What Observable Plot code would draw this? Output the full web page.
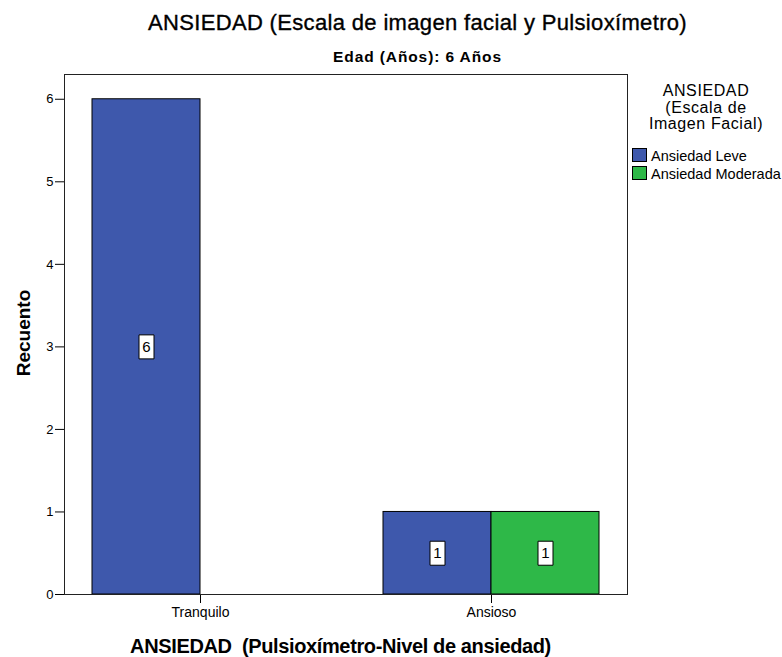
<!DOCTYPE html>
<html>
<head>
<meta charset="utf-8">
<script src="https://cdn.jsdelivr.net/npm/d3@7"></script>
<script src="https://cdn.jsdelivr.net/npm/@observablehq/plot@0.6"></script>
<style>
  body { margin: 0; background: #fff; font-family: "Liberation Sans", Arial, sans-serif; }
  #wrap { position: relative; width: 782px; height: 657px; overflow: hidden; }
  .abs { position: absolute; white-space: nowrap; color: #000; line-height: 1; }
  .c { transform: translate(-50%, -50%); }
  #title { left: 417.5px; top: 23px; font-size: 22px; font-weight: normal; -webkit-text-stroke: 0.35px #000; }
  #subtitle { left: 417.5px; top: 56.5px; font-size: 15.5px; font-weight: bold; }
  #ylabel { left: 23px; top: 333px; transform: translate(-50%, -50%) rotate(-90deg); font-size: 19px; font-weight: bold; }
  #xlabel { left: 340.5px; top: 645.5px; font-size: 20px; font-weight: bold; }
  .lt { left: 706px; font-size: 16px; }
  .sw { position: absolute; left: 632px; width: 13px; height: 12px; border: 1px solid #000; }
  .li { position: absolute; left: 651px; font-size: 14.5px; transform: translateY(-50%); line-height: 1; white-space: nowrap; }
  svg { position: absolute; left: 0; top: 0; }
</style>
</head>
<body>
<div id="wrap">
  <div id="title" class="abs c" data-w="539">ANSIEDAD (Escala de imagen facial y Pulsioxímetro)</div>
  <div id="subtitle" class="abs c" data-w="169">Edad (Años): 6 Años</div>
  <div id="ylabel" class="abs" data-w="87">Recuento</div>
  <div id="xlabel" class="abs c" data-w="421">ANSIEDAD&nbsp; (Pulsioxímetro-Nivel de ansiedad)</div>
  <div id="legend"></div>
</div>
<script>
const groups = ["Tranquilo", "Ansioso"];
const series = ["Ansiedad Leve", "Ansiedad Moderada"];
const leveValues = [6, 1];
const moderadaValues = [0, 1];
const yTicks = [0, 1, 2, 3, 4, 5, 6];
const seriesColors = ["#3E58AC", "#2EB848"];
const legendTitle = ["ANSIEDAD", "(Escala de", "Imagen Facial)"];

const data = [];
groups.forEach((g, i) => {
  data.push({group: g, series: series[0], value: leveValues[i]});
  data.push({group: g, series: series[1], value: moderadaValues[i]});
});
const shown = data.filter(d => d.value > 0);

const boxSymbol = {
  draw(context) { context.rect(-7.5, -12, 15, 24); }
};

const plot = Plot.plot({
  width: 782,
  height: 657,
  marginLeft: 63,
  marginRight: 154,
  marginTop: 74,
  marginBottom: 63,
  style: {fontFamily: "Liberation Sans, Arial, sans-serif", fontSize: "13px", color: "#000", background: "transparent"},
  fx: {domain: groups, paddingInner: 0.064, paddingOuter: 0, label: null, axis: null},
  x: {domain: series, paddingInner: 0, paddingOuter: 0.253, axis: null},
  y: {domain: [0, 6.3], axis: null},
  color: {domain: series, range: seriesColors},
  marks: [
    Plot.barY(shown, {fx: "group", x: "series", y: "value", fill: "series", stroke: "#000", strokeWidth: 1}),
    Plot.dot(shown, {fx: "group", x: "series", y: d => d.value / 2, symbol: boxSymbol, fill: "#fff", stroke: "#000", strokeWidth: 1}),
    Plot.text(shown, {fx: "group", x: "series", y: d => d.value / 2, text: d => String(d.value), fontSize: 15, fill: "#000"}),
    Plot.axisY({ticks: yTicks, tickFormat: d => String(d), tickSize: 9, tickPadding: 2, label: null, fontSize: 13}),
    Plot.axisFx({anchor: "bottom", tickSize: 9, tickPadding: 4, label: null, fontSize: 14}),
    Plot.frame({facet: "super", stroke: "#222", strokeWidth: 1})
  ]
});
document.getElementById("wrap").appendChild(plot);

const color = plot.scale("color");
const legend = document.getElementById("legend");
const titleTops = [91, 107.5, 124];
const itemTops = [148, 166];
legend.innerHTML =
  legendTitle.map((t, i) => `<div class="abs c lt" style="top:${titleTops[i]}px;letter-spacing:0.6px">${t}</div>`).join("") +
  series.map((s, i) => `<div class="sw" style="top:${itemTops[i]}px;background:${color.apply(s)}"></div>` +
    `<div class="li" style="top:${itemTops[i] + 7.5}px">${s}</div>`).join("");

// fit text widths to the reference's measured widths
document.querySelectorAll("[data-w]").forEach(el => {
  const target = +el.dataset.w;
  const w = el.offsetWidth;
  const n = el.textContent.length;
  el.style.letterSpacing = ((target - w) / n) + "px";
});
</script>
</body>
</html>
